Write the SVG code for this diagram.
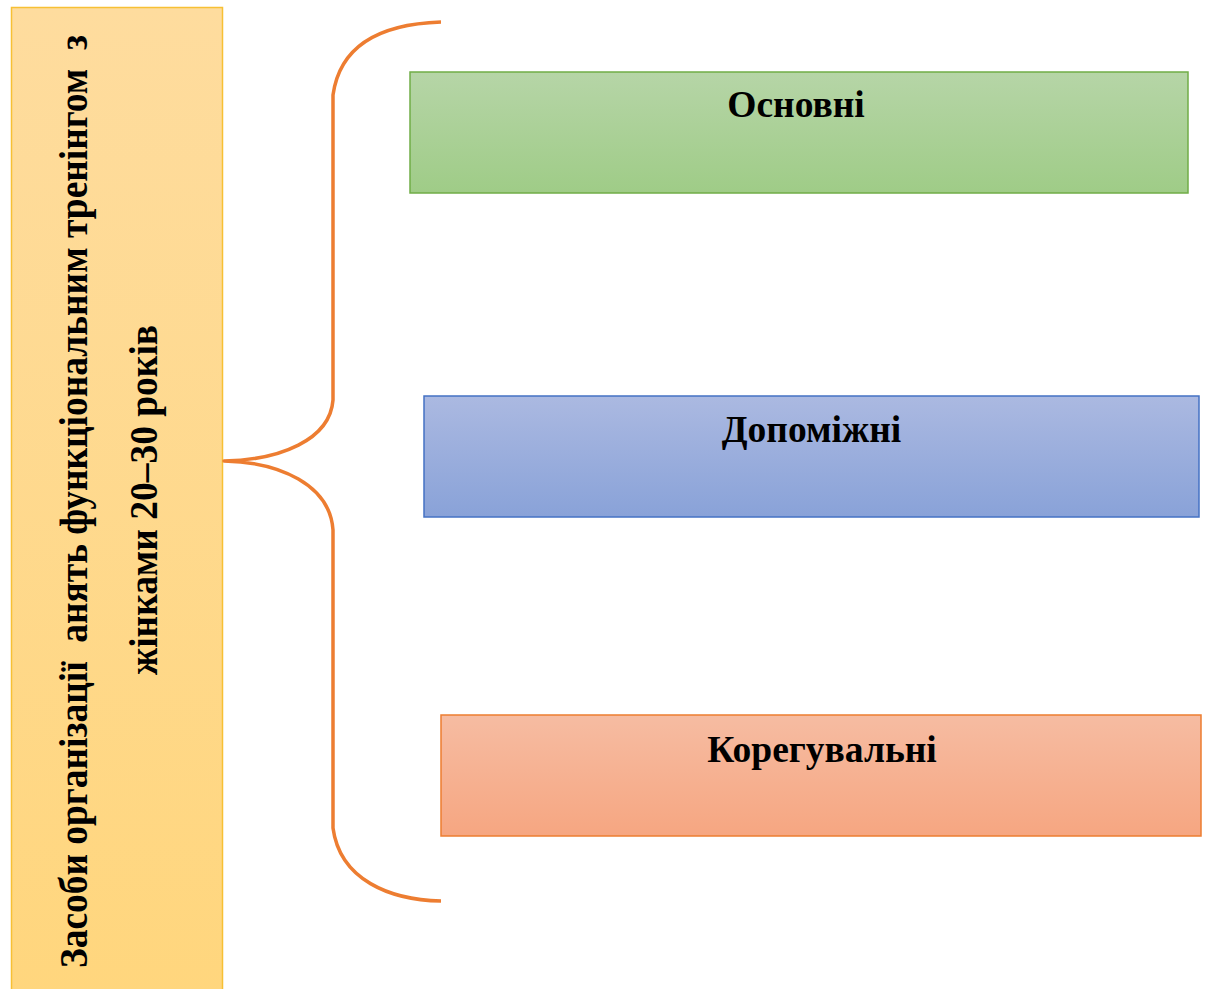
<svg xmlns="http://www.w3.org/2000/svg" width="1207" height="989" viewBox="0 0 1207 989">
<defs>
<linearGradient id="gY" x1="0" y1="0" x2="0" y2="1"><stop offset="0" stop-color="#FEDC9E"/><stop offset="1" stop-color="#FFD67D"/></linearGradient>
<linearGradient id="gG" x1="0" y1="0" x2="0" y2="1"><stop offset="0" stop-color="#B6D5A7"/><stop offset="1" stop-color="#9FCC87"/></linearGradient>
<linearGradient id="gB" x1="0" y1="0" x2="0" y2="1"><stop offset="0" stop-color="#ABB9E1"/><stop offset="1" stop-color="#89A2D8"/></linearGradient>
<linearGradient id="gO" x1="0" y1="0" x2="0" y2="1"><stop offset="0" stop-color="#F6BCA2"/><stop offset="1" stop-color="#F6A681"/></linearGradient>
</defs>
<style>
.lbl{font-family:"Liberation Serif","Times New Roman",serif;font-weight:bold;fill:#000;text-anchor:middle}
.h{font-size:37.5px}
.v{font-size:40px;white-space:pre}
</style>
<rect width="1207" height="989" fill="#FFFFFF"/>
<g id="main">
<rect x="11.5" y="7.5" width="211" height="990" fill="url(#gY)" stroke="#F7C034" stroke-width="1.5"/>
<text class="lbl v" transform="translate(87,501.5) rotate(-90)" x="0" y="0" textLength="933" lengthAdjust="spacingAndGlyphs">Засоби організації  анять функціональним тренінгом  з</text>
<text class="lbl v" transform="translate(157,500) rotate(-90)" x="0" y="0" textLength="350" lengthAdjust="spacingAndGlyphs">жінками 20–30 років</text>
</g>
<g id="connectors">
<path d="M 441 22 C 380 24, 340 45, 333 95 L 333 400 C 330 440, 280 460, 224 461 C 280 462, 330 485, 333 530 L 333 828 C 340 880, 390 900, 441 901" fill="none" stroke="#ED7D31" stroke-width="3.5" stroke-linejoin="round"/>
</g>
<g id="osnovni">
<rect x="410" y="72" width="778" height="121" fill="url(#gG)" stroke="#70AD47" stroke-width="1.5"/>
<text class="lbl h" x="796" y="117">Основні</text>
</g>
<g id="dopomizhni">
<rect x="424" y="396" width="775" height="121" fill="url(#gB)" stroke="#4472C4" stroke-width="1.5"/>
<text class="lbl h" x="811.5" y="441.5">Допоміжні</text>
</g>
<g id="koreguvalni">
<rect x="441" y="715" width="760" height="121" fill="url(#gO)" stroke="#ED7D31" stroke-width="1.5"/>
<text class="lbl h" x="822" y="761.5">Корегувальні</text>
</g>
</svg>
